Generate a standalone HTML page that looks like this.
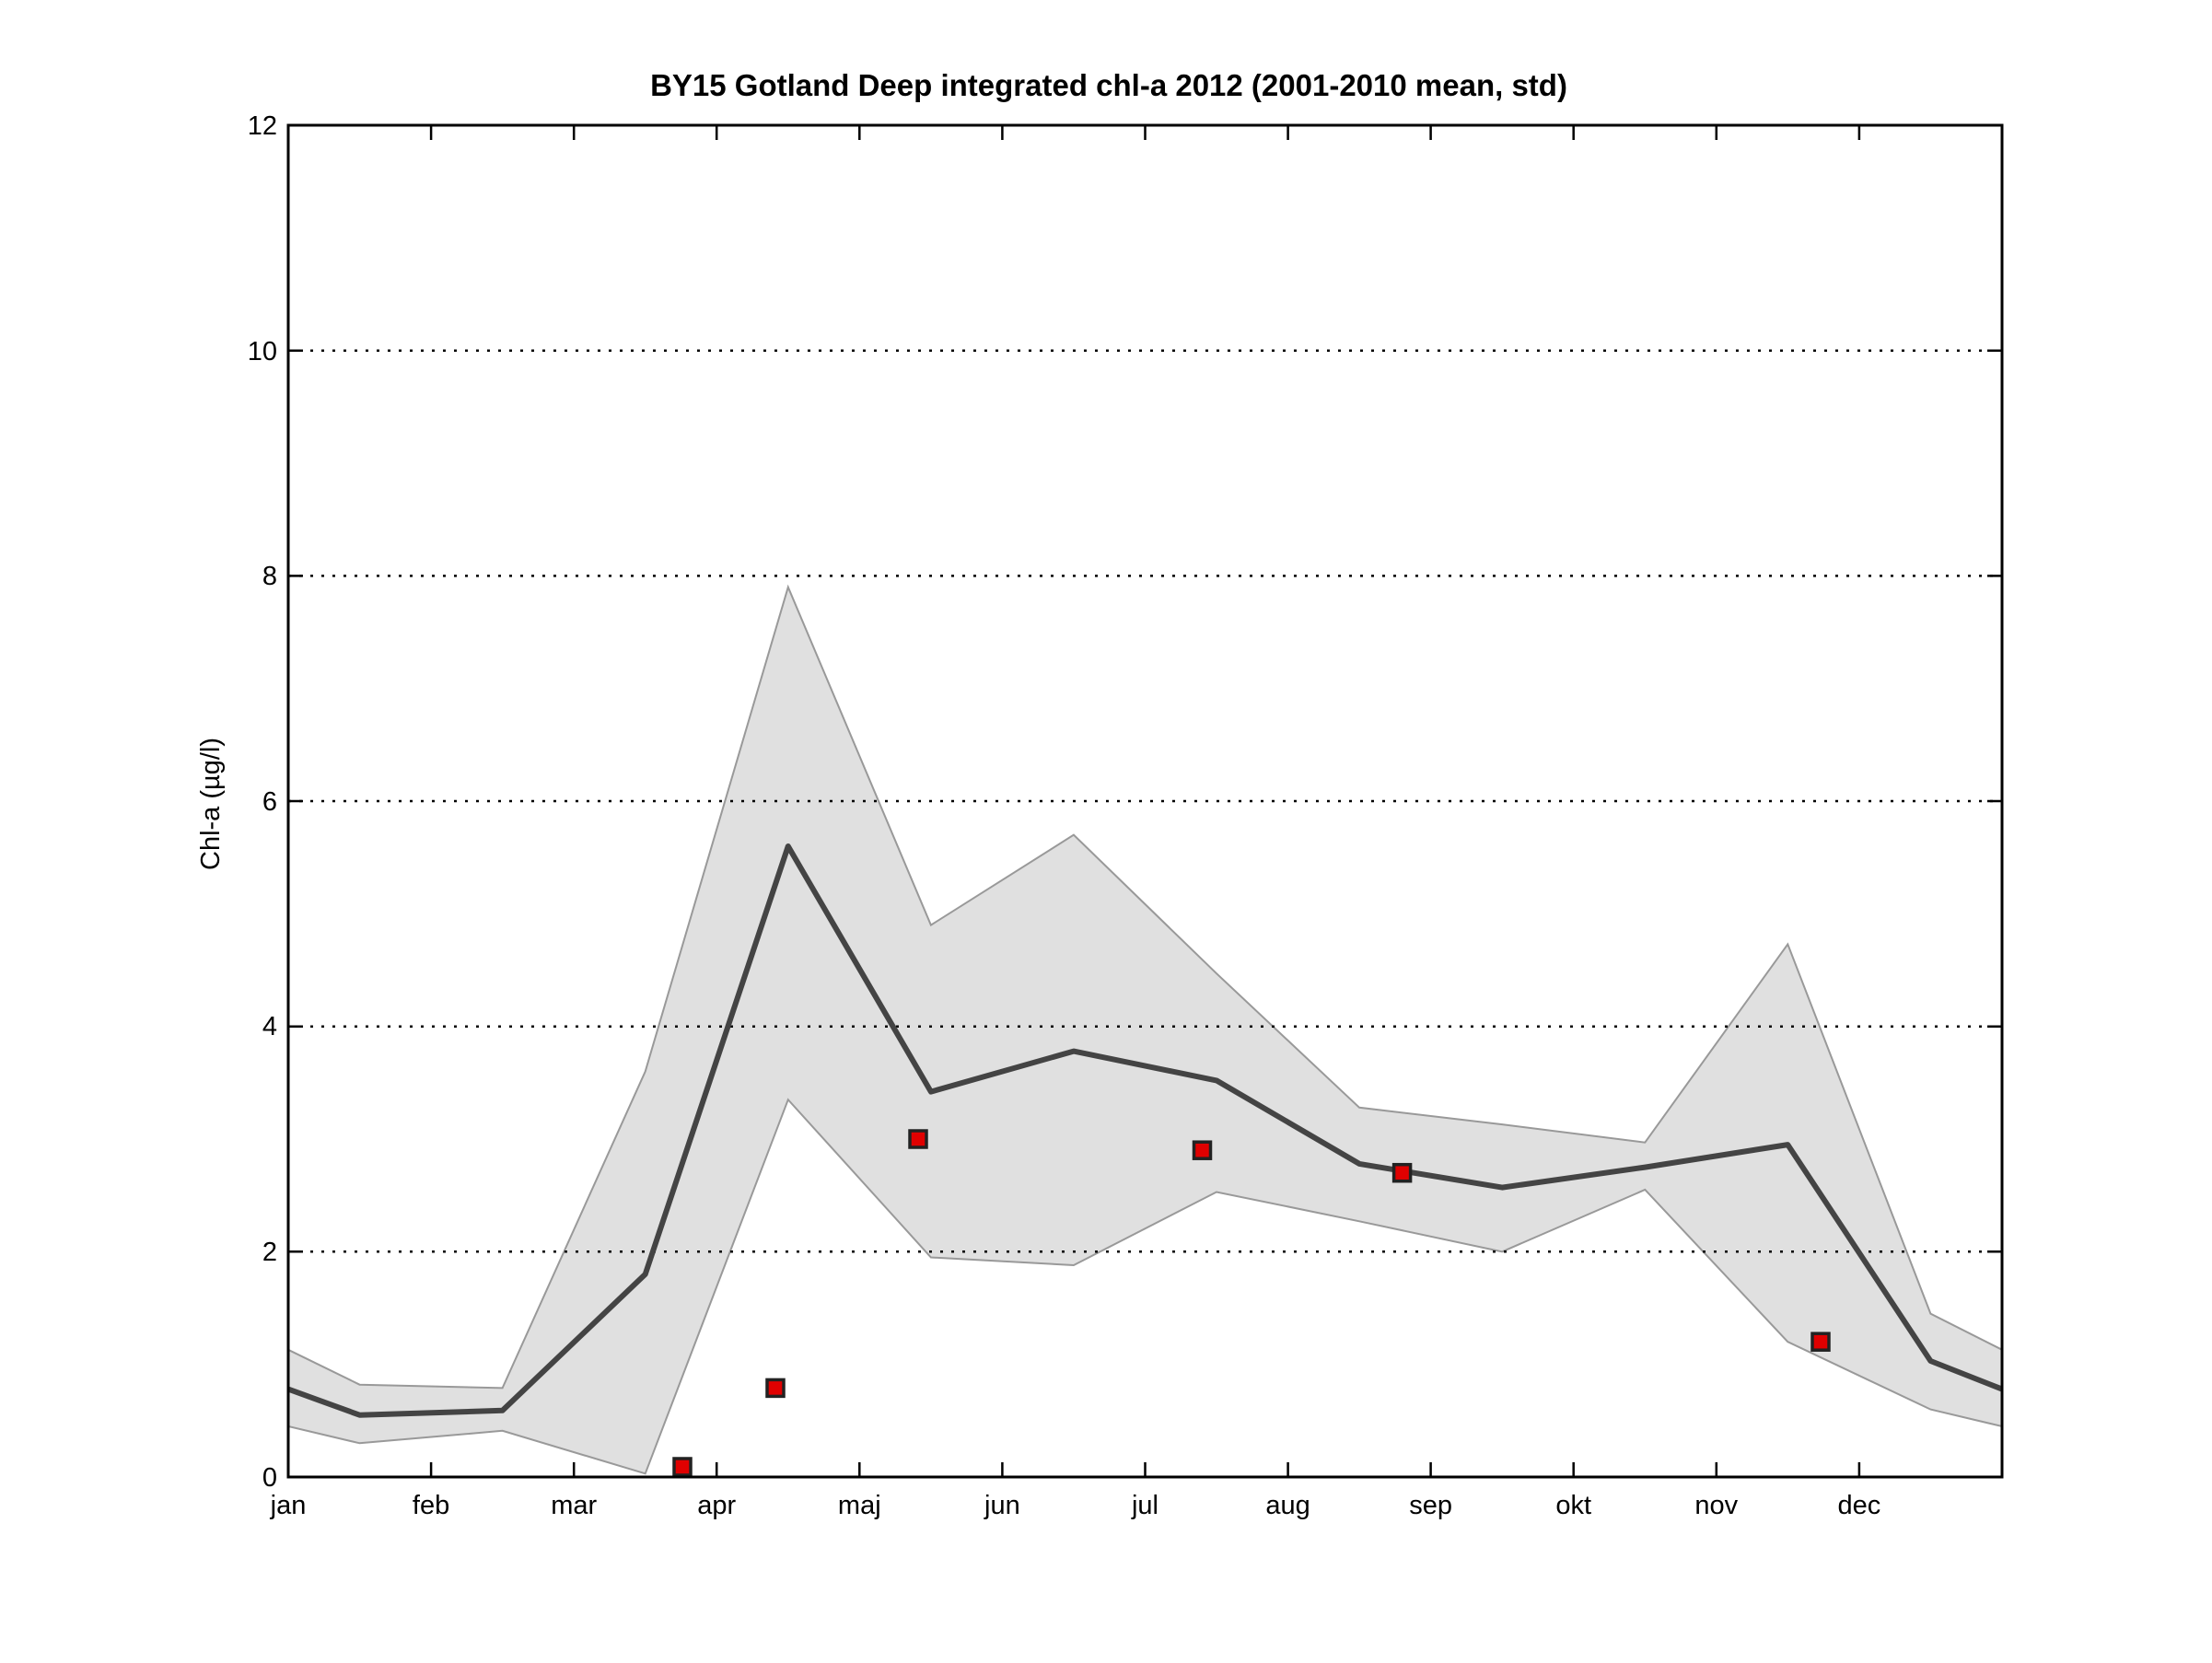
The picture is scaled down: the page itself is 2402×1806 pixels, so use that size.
<!DOCTYPE html>
<html><head><meta charset="utf-8"><style>html,body{margin:0;padding:0;background:#fff}</style></head>
<body>
<svg width="2402" height="1801" viewBox="0 0 2402 1801" xmlns="http://www.w3.org/2000/svg" font-family="Liberation Sans, Arial, sans-serif">
<rect width="2402" height="1801" fill="#fff"/>
<polygon fill="#e0e0e0" stroke="#999" stroke-width="2" points="313,1465.8 390.5,1503.7 545.6,1507.4 700.7,1163.6 855.8,637.6 1010.9,1004.6 1165.9,906.7 1321,1057.2 1476.1,1202.8 1631.2,1221.1 1786.3,1240.7 1941.3,1025.4 2096.4,1426.6 2174,1465.8 2174,1549 2096.4,1530.6 1941.3,1457.2 1786.3,1292 1631.2,1359.3 1476.1,1326.3 1321,1294.5 1165.9,1374 1010.9,1365.5 855.8,1194.2 700.7,1600.3 545.6,1553.8 390.5,1567.3 313,1549"/>
<g stroke="#000" stroke-width="2.5" stroke-dasharray="3,9">
<line x1="313" x2="2174" y1="1359.3" y2="1359.3"/>
<line x1="313" x2="2174" y1="1114.7" y2="1114.7"/>
<line x1="313" x2="2174" y1="870" y2="870"/>
<line x1="313" x2="2174" y1="625.4" y2="625.4"/>
<line x1="313" x2="2174" y1="380.7" y2="380.7"/>
</g>
<polyline fill="none" stroke="#444" stroke-width="6" stroke-linejoin="round" points="313,1508.6 390.5,1536.7 545.6,1531.8 700.7,1383.8 855.8,919 1010.9,1185.6 1165.9,1141.6 1321,1173.4 1476.1,1263.9 1631.2,1289.6 1786.3,1267.6 1941.3,1243.1 2096.4,1478 2174,1508.6"/>
<g fill="#e00000" stroke="#222" stroke-width="3.5">
<rect x="732" y="1584" width="18" height="18"/>
<rect x="833" y="1498.4" width="18" height="18"/>
<rect x="988" y="1228" width="18" height="18"/>
<rect x="1296.5" y="1240.2" width="18" height="18"/>
<rect x="1513.6" y="1264.7" width="18" height="18"/>
<rect x="1968" y="1448.2" width="18" height="18"/>
</g>
<rect x="313" y="136" width="1861" height="1468" fill="none" stroke="#000" stroke-width="3"/>
<g stroke="#000" stroke-width="2.5">
<path d="M313,1604v-16M468.1,1604v-16M623.2,1604v-16M778.2,1604v-16M933.3,1604v-16M1088.4,1604v-16M1243.5,1604v-16M1398.6,1604v-16M1553.6,1604v-16M1708.7,1604v-16M1863.8,1604v-16M2018.9,1604v-16"/>
<path d="M313,136v16M468.1,136v16M623.2,136v16M778.2,136v16M933.3,136v16M1088.4,136v16M1243.5,136v16M1398.6,136v16M1553.6,136v16M1708.7,136v16M1863.8,136v16M2018.9,136v16"/>
<path d="M313,1359.3h16M313,1114.7h16M313,870h16M313,625.4h16M313,380.7h16M2174,1359.3h-16M2174,1114.7h-16M2174,870h-16M2174,625.4h-16M2174,380.7h-16"/>
</g>
<g font-size="29" text-anchor="middle" fill="#000">
<text x="313" y="1644">jan</text><text x="468.1" y="1644">feb</text><text x="623.2" y="1644">mar</text><text x="778.2" y="1644">apr</text><text x="933.3" y="1644">maj</text><text x="1088.4" y="1644">jun</text><text x="1243.5" y="1644">jul</text><text x="1398.6" y="1644">aug</text><text x="1553.6" y="1644">sep</text><text x="1708.7" y="1644">okt</text><text x="1863.8" y="1644">nov</text><text x="2018.9" y="1644">dec</text>
</g>
<g font-size="29" text-anchor="end" fill="#000">
<text x="301" y="1614">0</text><text x="301" y="1369">2</text><text x="301" y="1124">4</text><text x="301" y="880">6</text><text x="301" y="635">8</text><text x="301" y="391">10</text><text x="301" y="146">12</text>
</g>
<text transform="translate(238,873) rotate(-90)" font-size="29" text-anchor="middle">Chl-a (µg/l)</text>
<text x="1204" y="104" font-size="33" font-weight="bold" text-anchor="middle">BY15 Gotland Deep integrated chl-a 2012 (2001-2010 mean, std)</text>
</svg>
</body></html>
